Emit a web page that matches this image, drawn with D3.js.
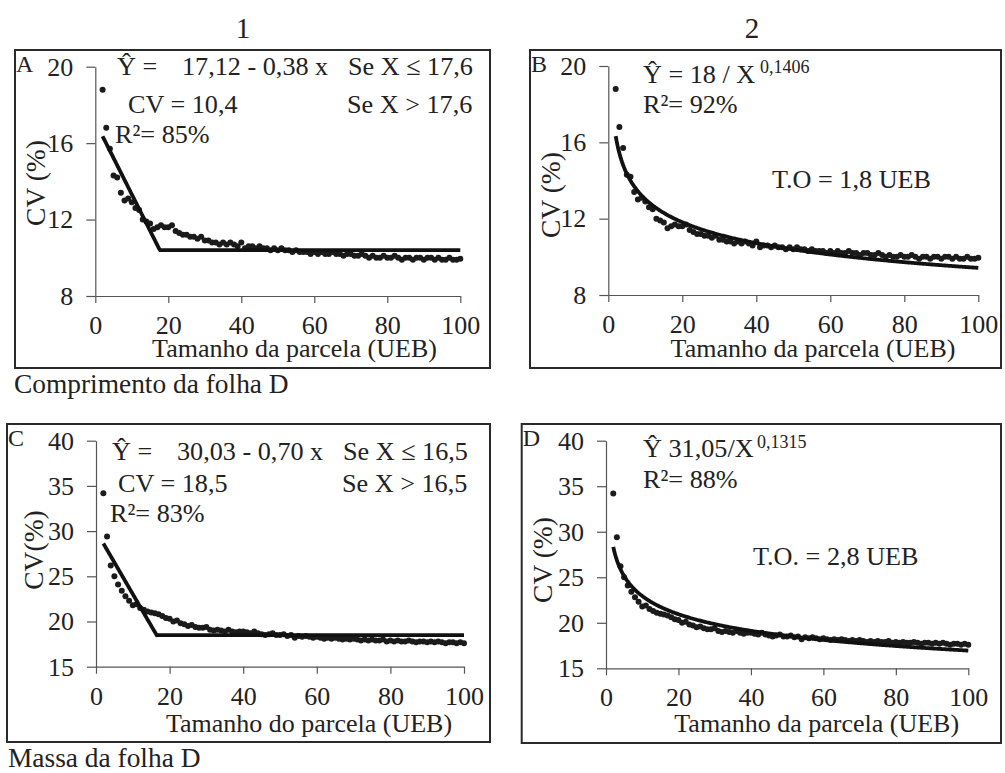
<!DOCTYPE html>
<html>
<head>
<meta charset="utf-8">
<script src="https://cdn.jsdelivr.net/npm/d3@7"></script>
<style>
  html, body { margin: 0; padding: 0; background: #fff; }
  svg { display: block; }
</style>
</head>
<body>
<svg id="chart" width="1005" height="773" font-family="Liberation Serif, Times New Roman, serif"></svg>
<script>
// Plot sizes in basic experimental units (UEB)
const plotSize = d3.range(2, 101);

// Coefficient of variation (%) for leaf D length, one value per plot size
const cvLength = [
  18.8, 16.8, 15.7, 14.3, 14.2, 13.4, 13.0, 13.1, 12.9, 12.6,
  12.5, 12.0, 11.9, 11.8, 11.5, 11.6, 11.7, 11.6, 11.6, 11.7,
  11.4, 11.3, 11.2, 11.2, 11.1, 11.1, 11.0, 11.1, 10.9, 10.9,
  10.8, 10.8, 10.7, 10.8, 10.7, 10.8, 10.7, 10.6, 10.8, 10.5,
  10.6, 10.6, 10.5, 10.6, 10.5, 10.5, 10.4, 10.5, 10.4, 10.5,
  10.4, 10.4, 10.3, 10.4, 10.3, 10.3, 10.3, 10.2, 10.3, 10.2,
  10.3, 10.2, 10.2, 10.3, 10.2, 10.2, 10.1, 10.2, 10.2, 10.1,
  10.1, 10.2, 10.1, 10.0, 10.1, 10.0, 10.0, 10.1, 10.0, 10.0,
  10.1, 10.0, 9.9, 10.0, 10.0, 9.9, 10.0, 10.0, 9.9, 10.0,
  10.0, 9.9, 10.0, 9.9, 9.9, 10.0, 9.9, 9.9, 9.95
];

// Coefficient of variation (%) for leaf D mass, one value per plot size
const cvMass = [
  34.2, 29.4, 26.2, 25.0, 24.1, 23.4, 22.8, 22.3, 21.8, 21.9,
  21.5, 21.3, 21.1, 21.0, 20.9, 20.8, 20.6, 20.4, 20.3, 20.0,
  20.1, 19.8, 19.7, 19.5, 19.6, 19.4, 19.3, 19.3, 19.4, 19.1,
  19.0, 19.1, 19.0, 18.9, 19.1, 18.9, 18.8, 18.9, 18.9, 18.8,
  18.7, 18.9, 18.7, 18.6, 18.5, 18.6, 18.7, 18.5, 18.5, 18.6,
  18.4, 18.5, 18.2, 18.4, 18.3, 18.4, 18.3, 18.2, 18.3, 18.2,
  18.1, 18.2, 18.1, 18.2, 18.1, 18.0, 18.1, 18.0, 18.1, 18.0,
  17.9, 18.0, 17.9, 18.0, 17.9, 17.9, 18.0, 17.8, 17.9, 17.8,
  17.9, 17.8, 17.8, 17.9, 17.8, 17.7, 17.8, 17.8, 17.7, 17.8,
  17.7, 17.8, 17.7, 17.6, 17.7, 17.7, 17.6, 17.7, 17.6
];

// Axis ticks
const xTicks = [0, 20, 40, 60, 80, 100];
const yTicksLength = [8, 12, 16, 20];
const yTicksMass = [15, 20, 25, 30, 35, 40];

// Fitted models (coefficients as printed on each panel)
const fitA = { a: 17.12, b: 0.38, xc: 17.6, plateau: 10.4 };
const fitB = { a: 18, b: 0.1406 };
const fitC = { a: 30.03, b: 0.70, xc: 16.5, plateau: 18.5 };
const fitD = { a: 31.05, b: 0.1315 };

const plateauModel = f => x => (x <= f.xc ? f.a - f.b * x : f.plateau);
const powerModel = f => x => f.a / Math.pow(x, f.b);

const FONT = "Liberation Serif, Times New Roman, serif";
const svg = d3.select("#chart");
const ink = "#1b1b1b";
const txt = "#222";

const SIZE_TICK = 26, SIZE_XTITLE = 26, SIZE_YTITLE = 27.5, SIZE_NOTE = 26.2, SIZE_SUP = 18;

const panels = [
  {
    letter: "A", box: [15, 50, 490, 368],
    xr: [95.3, 460.3], yr: [296, 66.7], ydom: [8, 20], yticks: yTicksLength,
    data: cvLength, model: plateauModel(fitA), fitStart: 2,
    ylabel: "CV (%)", ylab: [35, 183],
    xlabel: "Tamanho da parcela (UEB)", xlab: [294.5, 357],
    notes: [
      { t: "Ŷ =", x: 117, y: 75 },
      { t: "17,12 - 0,38 x", x: 182, y: 75 },
      { t: "Se X ≤ 17,6", x: 348, y: 75 },
      { t: "CV = 10,4", x: 128, y: 113 },
      { t: "Se X > 17,6", x: 347, y: 113 },
      { t: "R²= 85%", x: 115, y: 143 }
    ]
  },
  {
    letter: "B", box: [530, 50, 1001, 368],
    xr: [608.3, 978.3], yr: [295, 66], ydom: [8, 20], yticks: yTicksLength,
    data: cvLength, model: powerModel(fitB), fitStart: 2,
    ylabel: "CV (%)", ylab: [550, 195],
    xlabel: "Tamanho da parcela (UEB)", xlab: [813, 357],
    notes: [
      { t: "Ŷ = 18 / X", x: 643, y: 83, sup: "0,1406", supx: 760, supdy: -10 },
      { t: "R²= 92%", x: 643, y: 113 },
      { t: "T.O = 1,8 UEB", x: 772, y: 188 }
    ]
  },
  {
    letter: "C", box: [7, 424, 490, 742],
    xr: [96, 464], yr: [666.7, 440.7], ydom: [15, 40], yticks: yTicksMass,
    data: cvMass, model: plateauModel(fitC), fitStart: 2,
    ylabel: "CV(%)", ylab: [33, 550],
    xlabel: "Tamanho do parcela (UEB)", xlab: [309, 732],
    notes: [
      { t: "Ŷ =", x: 112, y: 460 },
      { t: "30,03 - 0,70 x", x: 177, y: 460 },
      { t: "Se X ≤ 16,5", x: 343, y: 460 },
      { t: "CV = 18,5", x: 118, y: 491.7 },
      { t: "Se X > 16,5", x: 342, y: 491.7 },
      { t: "R²= 83%", x: 110, y: 521.7 }
    ]
  },
  {
    letter: "D", box: [521.7, 424, 1001, 743],
    xr: [606, 968.3], yr: [668.3, 440.7], ydom: [15, 40], yticks: yTicksMass,
    data: cvMass, model: powerModel(fitD), fitStart: 2,
    ylabel: "CV (%)", ylab: [542, 560],
    xlabel: "Tamanho da parcela (UEB)", xlab: [816.7, 732],
    notes: [
      { t: "Ŷ 31,05/X", x: 643, y: 456.7, sup: "0,1315", supx: 757, supdy: -9 },
      { t: "R²= 88%", x: 643, y: 488 },
      { t: "T.O. = 2,8 UEB", x: 753, y: 565 }
    ]
  }
];

function label(parent, s, size) {
  return parent.append("text")
    .attr("font-family", FONT)
    .attr("font-size", size)
    .attr("fill", txt)
    .text(s);
}

panels.forEach(p => {
  const g = svg.append("g");
  const [bx0, by0, bx1, by1] = p.box;

  // Panel frame
  g.append("rect")
    .attr("x", bx0).attr("y", by0)
    .attr("width", bx1 - bx0).attr("height", by1 - by0)
    .attr("fill", "none").attr("stroke", "#2a2a2a").attr("stroke-width", 2);

  const x = d3.scaleLinear().domain([0, 100]).range(p.xr);
  const y = d3.scaleLinear().domain(p.ydom).range(p.yr);

  // Axes
  const xAxis = d3.axisBottom(x).tickValues(xTicks).tickSize(7).tickSizeOuter(0).tickPadding(14);
  const yAxis = d3.axisLeft(y).tickValues(p.yticks).tickSize(9).tickSizeOuter(0).tickPadding(13);

  const gx = g.append("g").attr("transform", `translate(0,${p.yr[0]})`).call(xAxis);
  const gy = g.append("g").attr("transform", `translate(${p.xr[0]},0)`).call(yAxis);
  [gx, gy].forEach(a => {
    a.attr("font-family", FONT).attr("font-size", SIZE_TICK);
    a.select(".domain").attr("stroke", "#555").attr("stroke-width", 1.2);
    a.selectAll(".tick line").attr("stroke", "#555").attr("stroke-width", 1.2);
    a.selectAll(".tick text").attr("fill", txt);
  });
  gx.selectAll(".tick text").attr("dy", "0.66em");

  // Axis titles
  label(g, p.xlabel, SIZE_XTITLE)
    .attr("x", p.xlab[0]).attr("y", p.xlab[1])
    .attr("text-anchor", "middle");
  label(g, p.ylabel, SIZE_YTITLE)
    .attr("transform", `translate(${p.ylab[0]},${p.ylab[1]}) rotate(-90)`)
    .attr("text-anchor", "middle").attr("dy", "0.35em");

  // Panel letter
  label(g, p.letter, 24).attr("x", bx0 + 1).attr("y", by0 + 22);

  // Observed points
  g.append("g").selectAll("circle")
    .data(p.data)
    .join("circle")
    .attr("cx", (d, i) => x(plotSize[i]))
    .attr("cy", d => y(d))
    .attr("r", 3)
    .attr("fill", ink);

  // Fitted curve
  const fitX = d3.range(p.fitStart, 100.01, 0.25);
  const line = d3.line().x(d => x(d)).y(d => y(p.model(d)));
  g.append("path")
    .datum(fitX)
    .attr("d", line)
    .attr("fill", "none")
    .attr("stroke", "#111")
    .attr("stroke-width", 3.8)
    .attr("stroke-linejoin", "miter");

  // Equation notes
  p.notes.forEach(n => {
    label(g, n.t, SIZE_NOTE).attr("x", n.x).attr("y", n.y).attr("xml:space", "preserve");
    if (n.sup) {
      label(g, n.sup, SIZE_SUP).attr("x", n.supx).attr("y", n.y + n.supdy);
    }
  });
});

// Column headers and row captions
label(svg, "1", 29).attr("x", 243).attr("y", 38).attr("text-anchor", "middle");
label(svg, "2", 29).attr("x", 752).attr("y", 38).attr("text-anchor", "middle");
label(svg, "Comprimento da folha D", 27.4).attr("x", 14).attr("y", 393);
label(svg, "Massa da folha D", 27.4).attr("x", 8).attr("y", 767);
</script>
</body>
</html>
